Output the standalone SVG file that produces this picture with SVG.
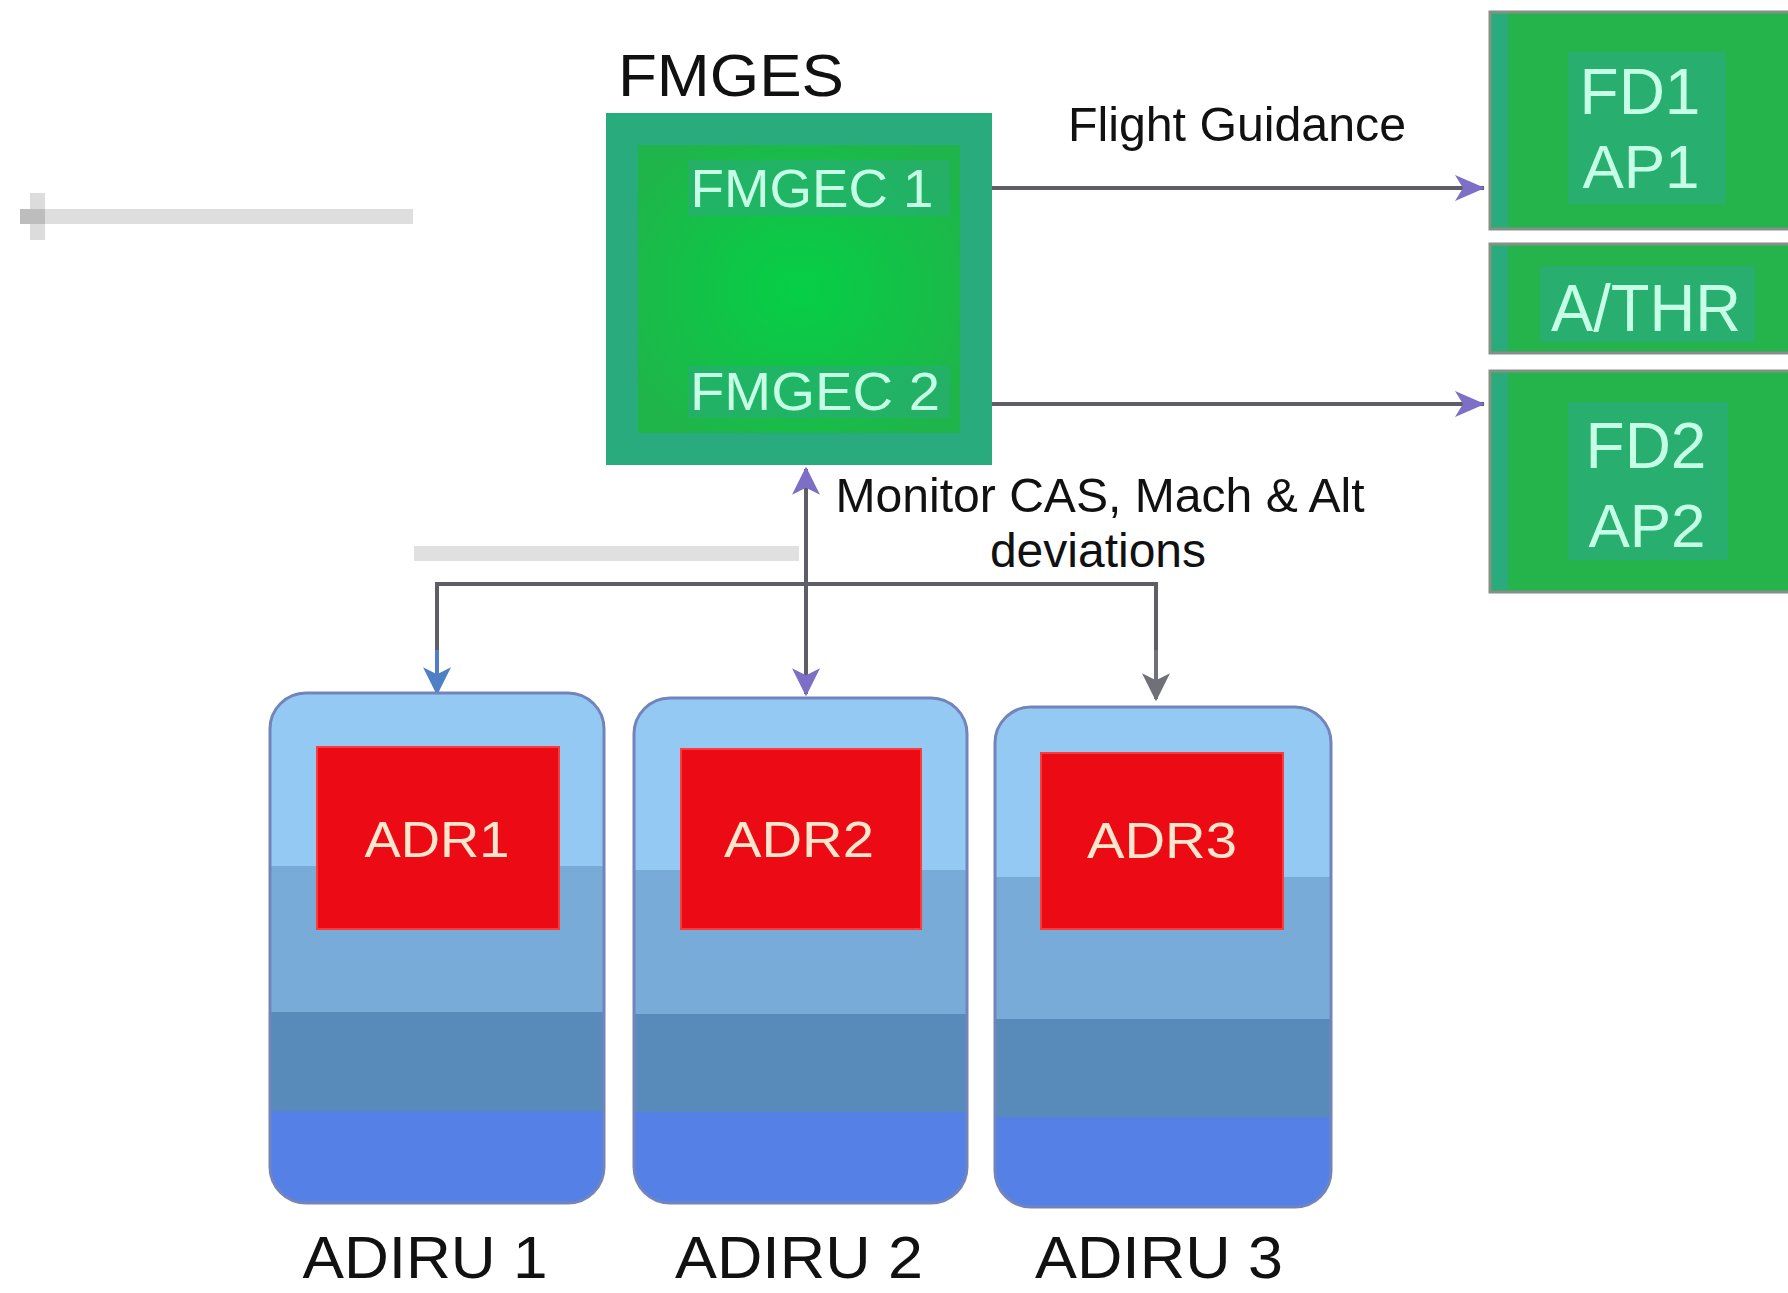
<svg xmlns="http://www.w3.org/2000/svg" width="1788" height="1293" viewBox="0 0 1788 1293">
  <defs>
    <style>
      .sans { font-family: "Liberation Sans", Arial, sans-serif; }
      .title { font-size: 60px; fill: #111; }
      .label { font-size: 48px; fill: #111; }
      .mint { fill: #c4ffe6; text-anchor: middle; }
      .adr { font-size: 50px; fill: #ffe6cc; text-anchor: middle; }
      .unit { font-size: 60px; fill: #111; text-anchor: middle; }
      .wire { stroke: #5e5e66; stroke-width: 4; fill: none; }
      .green { fill: #25b44b; }
      .teal { fill: #29ab7d; }
      .adiru { fill: url(#adiruFill); stroke: #7384bd; stroke-width: 3; }
      .red { fill: #ec0b15; stroke: #ff3a3a; stroke-width: 2; }
    </style>
    <linearGradient id="adiruFill" x1="0" y1="0" x2="0" y2="1">
      <stop offset="0" stop-color="#93c9f3"/>
      <stop offset="0.34" stop-color="#93c9f3"/>
      <stop offset="0.34" stop-color="#79abd9"/>
      <stop offset="0.625" stop-color="#79abd9"/>
      <stop offset="0.625" stop-color="#588bba"/>
      <stop offset="0.82" stop-color="#588bba"/>
      <stop offset="0.82" stop-color="#5580e6"/>
      <stop offset="1" stop-color="#5580e6"/>
    </linearGradient>
    <radialGradient id="fmgesCore" cx="0.5" cy="0.5" r="0.6">
      <stop offset="0" stop-color="#05cf45"/>
      <stop offset="1" stop-color="#1fb54a"/>
    </radialGradient>
    <marker id="headPurple" viewBox="0 0 30 26" refX="29" refY="13" markerWidth="30" markerHeight="26" markerUnits="userSpaceOnUse" orient="auto">
      <path d="M0,0 L30,13 L0,26 L8,13 Z" fill="#7d6fc6"/>
    </marker>
    <marker id="arrowhead" viewBox="0 0 12 12" refX="11" refY="6" markerWidth="7" markerHeight="7" orient="auto-start-reverse">
      <path d="M0,0 L12,6 L0,12 L3,6 Z" fill="#7d6fc6"/>
    </marker>
    <marker id="headBlue" viewBox="0 0 12 12" refX="11" refY="6" markerWidth="7" markerHeight="7" orient="auto">
      <path d="M0,0 L12,6 L0,12 L3,6 Z" fill="#4f7fc4"/>
    </marker>
    <marker id="headGray" viewBox="0 0 12 12" refX="11" refY="6" markerWidth="7" markerHeight="7" orient="auto">
      <path d="M0,0 L12,6 L0,12 L3,6 Z" fill="#707078"/>
    </marker>
  </defs>

  <rect width="1788" height="1293" fill="#ffffff"/>

  <!-- faint leftward pointer -->
  <g id="faint-pointer">
    <rect x="20" y="209" width="393" height="15" fill="#dedede"/>
    <rect x="30" y="193" width="15" height="47" fill="#dcdcdc"/>
    <rect x="20" y="209" width="25" height="15" fill="#bdbdbd"/>
  </g>

  <!-- faint bar above the bus -->
  <rect x="414" y="546" width="385" height="15" fill="#e0e0e0"/>

  <!-- connectors -->
  <g id="connectors">
    <line class="wire" x1="992" y1="188" x2="1484" y2="188" marker-end="url(#headPurple)"/>
    <line class="wire" x1="992" y1="404" x2="1484" y2="404" marker-end="url(#headPurple)"/>
    <line class="wire" x1="806" y1="469" x2="806" y2="694" stroke="#6c6a8e" marker-start="url(#arrowhead)" marker-end="url(#arrowhead)"/>
    <polyline class="wire" points="437,691 437,584 1156,584 1156,697"/>
    <line x1="437" y1="650" x2="437" y2="693" stroke="#4f7fc4" stroke-width="4" marker-end="url(#headBlue)"/>
    <line x1="1156" y1="650" x2="1156" y2="699" stroke="#707078" stroke-width="4" marker-end="url(#headGray)"/>
  </g>

  <!-- FMGES -->
  <g id="fmges">
    <text class="sans title" x="618" y="96" textLength="226" lengthAdjust="spacingAndGlyphs">FMGES</text>
    <rect x="606" y="113" width="386" height="352" class="teal"/>
    <rect x="638" y="145" width="322" height="288" fill="url(#fmgesCore)"/>
    <rect x="688" y="160" width="262" height="56" class="teal" opacity="0.55"/>
    <rect x="688" y="366" width="262" height="52" class="teal" opacity="0.55"/>
    <text class="sans mint" x="812" y="207" font-size="54" textLength="243" lengthAdjust="spacingAndGlyphs">FMGEC 1</text>
    <text class="sans mint" x="815" y="410" font-size="54" textLength="250" lengthAdjust="spacingAndGlyphs">FMGEC 2</text>
  </g>

  <text class="sans label" x="1068" y="141" textLength="338" lengthAdjust="spacingAndGlyphs">Flight Guidance</text>
  <text class="sans label" x="1100" y="512" font-size="46" text-anchor="middle" textLength="529" lengthAdjust="spacingAndGlyphs">Monitor CAS, Mach &amp; Alt</text>
  <text class="sans label" x="1098" y="567" font-size="46" text-anchor="middle">deviations</text>

  <!-- FD1 / AP1 -->
  <g id="fd1-ap1">
    <rect x="1490" y="12" width="300" height="217" class="green" stroke="#85908a" stroke-width="3"/>
    <rect x="1492" y="14" width="16" height="213" class="teal"/>
    <rect x="1568" y="52" width="158" height="152" class="teal" opacity="0.7"/>
    <text class="sans mint" x="1640" y="114" font-size="64">FD1</text>
    <text class="sans mint" x="1641" y="188" font-size="62">AP1</text>
  </g>

  <!-- A/THR -->
  <g id="athr">
    <rect x="1490" y="244" width="300" height="109" class="green" stroke="#85908a" stroke-width="3"/>
    <rect x="1492" y="246" width="16" height="105" class="teal"/>
    <rect x="1540" y="266" width="215" height="76" class="teal" opacity="0.7"/>
    <text class="sans mint" x="1646" y="331" font-size="66" textLength="190" lengthAdjust="spacingAndGlyphs">A/THR</text>
  </g>

  <!-- FD2 / AP2 -->
  <g id="fd2-ap2">
    <rect x="1490" y="371" width="300" height="221" class="green" stroke="#85908a" stroke-width="3"/>
    <rect x="1492" y="373" width="16" height="217" class="teal"/>
    <rect x="1568" y="402" width="160" height="158" class="teal" opacity="0.7"/>
    <text class="sans mint" x="1646" y="468" font-size="64">FD2</text>
    <text class="sans mint" x="1647" y="547" font-size="62">AP2</text>
  </g>

  <!-- ADIRU 1 -->
  <g id="adiru1">
    <rect x="270" y="693" width="334" height="510" rx="36" class="adiru"/>
    <rect x="317" y="747" width="242" height="182" class="red"/>
    <text class="sans adr" x="437" y="857" textLength="145" lengthAdjust="spacingAndGlyphs">ADR1</text>
    <text class="sans unit" x="425" y="1278" textLength="245" lengthAdjust="spacingAndGlyphs">ADIRU 1</text>
  </g>

  <!-- ADIRU 2 -->
  <g id="adiru2">
    <rect x="634" y="698" width="333" height="505" rx="36" class="adiru"/>
    <rect x="681" y="749" width="240" height="180" class="red"/>
    <text class="sans adr" x="799" y="857" textLength="150" lengthAdjust="spacingAndGlyphs">ADR2</text>
    <text class="sans unit" x="799" y="1278" textLength="248" lengthAdjust="spacingAndGlyphs">ADIRU 2</text>
  </g>

  <!-- ADIRU 3 -->
  <g id="adiru3">
    <rect x="995" y="707" width="336" height="500" rx="36" class="adiru"/>
    <rect x="1041" y="753" width="242" height="176" class="red"/>
    <text class="sans adr" x="1162" y="858" textLength="150" lengthAdjust="spacingAndGlyphs">ADR3</text>
    <text class="sans unit" x="1159" y="1278" textLength="248" lengthAdjust="spacingAndGlyphs">ADIRU 3</text>
  </g>
</svg>
